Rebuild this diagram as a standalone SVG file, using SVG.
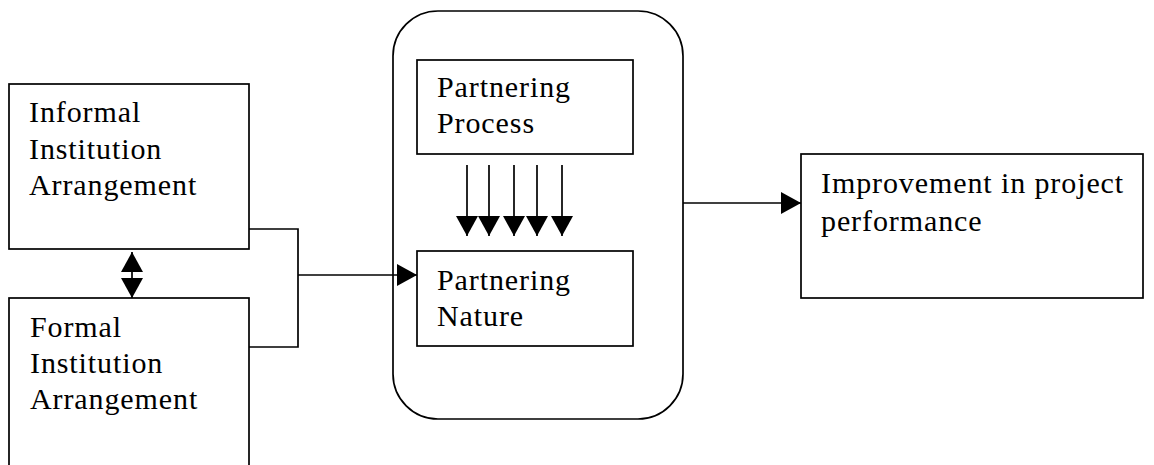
<svg xmlns="http://www.w3.org/2000/svg" width="1154" height="465" viewBox="0 0 1154 465">
  <style>
    .box { fill: #ffffff; stroke: #000000; stroke-width: 1.7; }
    .wire { fill: none; stroke: #000000; stroke-width: 1.7; }
    .label { font-family: "Liberation Serif", "Times New Roman", serif; font-size: 30px; letter-spacing: 0.9px; fill: #000000; }
  </style>
  <defs>
    <marker id="head" viewBox="0 0 20 22" refX="20" refY="11" markerWidth="20" markerHeight="22" markerUnits="userSpaceOnUse" orient="auto-start-reverse">
      <path d="M0,0 L20,11 L0,22 z" fill="#000000"/>
    </marker>
  </defs>
  <rect width="1154" height="465" fill="#ffffff"/>

  <g id="informal">
    <rect class="box" x="9" y="84" width="240" height="165"/>
    <text class="label" x="29" y="122">Informal</text>
    <text class="label" x="29" y="159">Institution</text>
    <text class="label" x="29" y="195">Arrangement</text>
  </g>

  <g id="formal">
    <rect class="box" x="9" y="298" width="240" height="180"/>
    <text class="label" x="30" y="337">Formal</text>
    <text class="label" x="30" y="373">Institution</text>
    <text class="label" x="30" y="409">Arrangement</text>
  </g>

  <g id="partnering">
    <rect class="box" x="393" y="11" width="290" height="408" rx="45" ry="45"/>
    <g id="process">
      <rect class="box" x="417" y="60" width="216" height="94"/>
      <text class="label" x="437" y="97">Partnering</text>
      <text class="label" x="437" y="133">Process</text>
    </g>
    <g id="nature">
      <rect class="box" x="417" y="251" width="216" height="95"/>
      <text class="label" x="437" y="290">Partnering</text>
      <text class="label" x="437" y="326">Nature</text>
    </g>
  </g>

  <g id="improvement">
    <rect class="box" x="801" y="154" width="342" height="144"/>
    <text class="label" x="821" y="193">Improvement in project</text>
    <text class="label" x="821" y="231">performance</text>
  </g>

  <g id="connectors">
    <!-- two-way link between the institution boxes -->
    <line class="wire" x1="132" y1="252" x2="132" y2="298" marker-start="url(#head)" marker-end="url(#head)"/>
    <!-- institutions merge into partnering nature -->
    <polyline class="wire" points="249,229 298,229 298,347 249,347"/>
    <line class="wire" x1="298" y1="275" x2="417" y2="275" marker-end="url(#head)"/>
    <!-- process feeds nature -->
    <line class="wire" x1="467" y1="165" x2="467" y2="236" marker-end="url(#head)"/>
    <line class="wire" x1="489" y1="165" x2="489" y2="236" marker-end="url(#head)"/>
    <line class="wire" x1="514" y1="165" x2="514" y2="236" marker-end="url(#head)"/>
    <line class="wire" x1="537" y1="165" x2="537" y2="236" marker-end="url(#head)"/>
    <line class="wire" x1="562" y1="165" x2="562" y2="236" marker-end="url(#head)"/>
    <!-- partnering leads to performance -->
    <line class="wire" x1="683" y1="203" x2="801" y2="203" marker-end="url(#head)"/>
  </g>
</svg>
